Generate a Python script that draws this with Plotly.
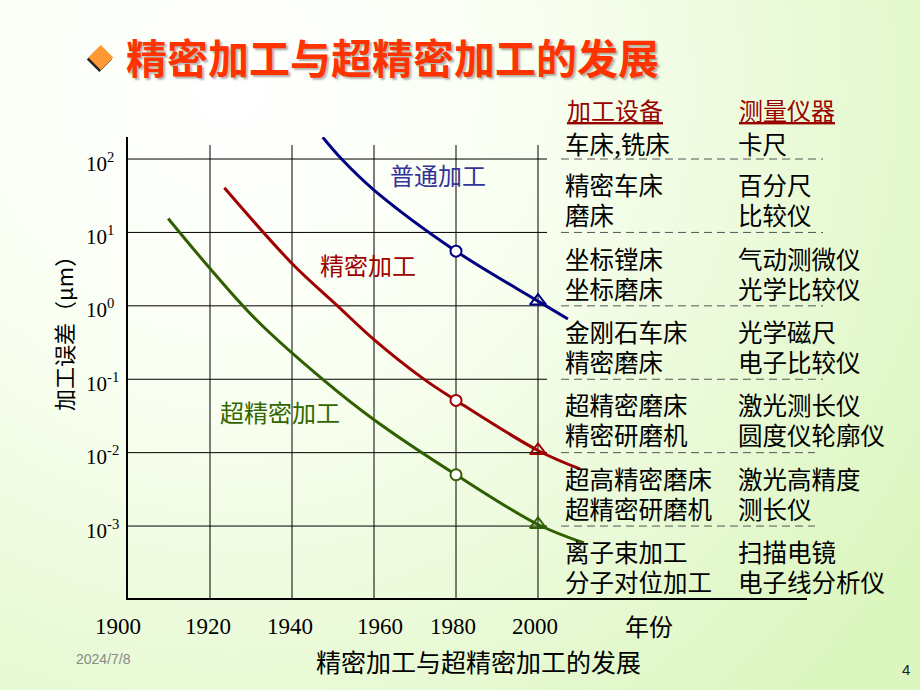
import base64
import plotly.graph_objects as go

# ---------------- data ----------------
years_normal = [1947.5, 1952.1, 1960, 1980, 2000, 2007.3]
err_normal = [198.0, 100.0, 37.8, 5.56, 1.16, 0.66]

years_precision = [1923.5, 1940, 1951.1, 1960, 1972, 1980, 2000, 2010.2]
err_precision = [40.6, 3.78, 1.0, 0.347, 0.102, 0.0515, 0.0107, 0.0060]

years_ultra = [1909.8, 1920, 1931.4, 1947.8, 1960, 1980, 2000, 2011.2]
err_ultra = [15.5, 3.23, 0.637, 0.0966, 0.0281, 0.0050, 0.00105, 0.00059]

marker_years = [1980, 2000]

series_names = ["普通加工", "精密加工", "超精密加工"]

x_ticks = [1900, 1920, 1940, 1960, 1980, 2000]
x_tick_labels = ["1900", "1920", "1940", "1960", "1980", "2000"]
y_ticks = [2, 1, 0, -1, -2, -3]          # decades (log10 of μm)
y_tick_labels = ["10<sup>2</sup>", "10<sup>1</sup>", "10<sup>0</sup>",
                 "10<sup>-1</sup>", "10<sup>-2</sup>", "10<sup>-3</sup>"]

table_headers = ["加工设备", "测量仪器"]
table_equipment = [["车床,铣床"], ["精密车床", "磨床"], ["坐标镗床", "坐标磨床"],
                   ["金刚石车床", "精密磨床"], ["超精密磨床", "精密研磨机"],
                   ["超高精密磨床", "超精密研磨机"], ["离子束加工", "分子对位加工"]]
table_instruments = [["卡尺"], ["百分尺", "比较仪"], ["气动测微仪", "光学比较仪"],
                     ["光学磁尺", "电子比较仪"], ["激光测长仪", "圆度仪轮廓仪"],
                     ["激光高精度", "测长仪"], ["扫描电镜", "电子线分析仪"]]

title_text = "精密加工与超精密加工的发展"
caption_text = "精密加工与超精密加工的发展"
y_title = "加工误差（μm）"
x_title = "年份"
date_text = "2024/7/8"
page_text = "4"

# ---------------- layout geometry ----------------
W, H = 920, 690
L, R, T, B = 128, 113, 137, 92
PW, PH = W - L - R, H - T - B
X_RANGE = [1900, 1900 + PW / 4.1]
Y_RANGE = [-3.98, 2.30]


def px(x):
    return (x - L) / PW


def py(y):
    return (H - B - y) / PH


def log_to_py(v):
    return T + (Y_RANGE[1] - v) / (Y_RANGE[1] - Y_RANGE[0]) * PH


CJK = "Noto Sans CJK SC"
SERIF = "Liberation Serif"
colors = ["#000080", "#A00000", "#2F5F00"]
label_colors = ["#333399", "#A00000", "#336600"]

fig = go.Figure()

all_years = [years_normal, years_precision, years_ultra]
all_err = [err_normal, err_precision, err_ultra]
for name, yrs, errs, c in zip(series_names, all_years, all_err, colors):
    fig.add_trace(go.Scatter(x=yrs, y=errs, mode="lines", name=name,
                             line=dict(color=c, width=3, shape="spline", smoothing=1.0),
                             hoverinfo="skip"))
    mx = [y for y in yrs if y in marker_years]
    my = [e for y, e in zip(yrs, errs) if y in marker_years]
    fig.add_trace(go.Scatter(x=mx[:1], y=my[:1], mode="markers",
                             marker=dict(symbol="circle", size=11, color="white",
                                         line=dict(color=c, width=2)),
                             hoverinfo="skip"))
    fig.add_trace(go.Scatter(x=mx[1:], y=my[1:], mode="markers",
                             marker=dict(symbol="triangle-up-open", size=14,
                                         color=c, line=dict(color=c, width=2)),
                             hoverinfo="skip"))

shapes = []
# vertical grid lines (shape coordinates on a log axis are data values)
for xv in x_ticks[1:]:
    shapes.append(dict(type="line", xref="x", yref="y", x0=xv, x1=xv,
                       y0=10 ** Y_RANGE[0], y1=10 ** 2.19, line=dict(color="black", width=1),
                       layer="below"))
# horizontal grid lines
for yv in y_ticks:
    shapes.append(dict(type="line", xref="x", yref="y", x0=1900, x1=2002.2,
                       y0=10 ** yv, y1=10 ** yv, line=dict(color="black", width=1),
                       layer="below"))
# dashed table separators (aligned with decades)
for i, yv in enumerate(y_ticks):
    yp = py(log_to_py(yv))
    x_end = 823 if i < 4 else 815
    shapes.append(dict(type="line", xref="paper", yref="paper",
                       x0=px(561), x1=px(x_end), y0=yp, y1=yp,
                       line=dict(color="#555555", width=1, dash="8px,5px")))


# diamond bullet (shadow + body)
def diamond(cx, cy, hw, hh):
    return (f"M {px(cx - hw)},{py(cy)} L {px(cx)},{py(cy - hh)} "
            f"L {px(cx + hw)},{py(cy)} L {px(cx)},{py(cy + hh)} Z")


shapes.append(dict(type="path", xref="paper", yref="paper",
                   path=diamond(99.3, 59.5, 12.5, 12.5), fillcolor="#222222",
                   line=dict(width=0)))
shapes.append(dict(type="path", xref="paper", yref="paper",
                   path=diamond(100.8, 57.5, 12.5, 12.5), fillcolor="#FF9933",
                   line=dict(width=0)))

ann = []


def note(text, x, y, font, xref="paper", yref="paper", xanchor="center",
         yanchor="middle", **kw):
    ann.append(dict(text=text, x=x, y=y, xref=xref, yref=yref, xanchor=xanchor,
                    yanchor=yanchor, showarrow=False, font=font, **kw))


# title
note(title_text, px(124), py(56), dict(family=CJK, size=41, color="#FF3300", weight="bold",
                                        shadow="2px 2px 2px rgba(0,0,0,0.30)"),
     xanchor="left")
# x tick labels
x_shift = [-10, -2, -2, 6, -3, -3]
for xv, lab, s in zip(x_ticks, x_tick_labels, x_shift):
    note(lab, xv, py(626), dict(family=SERIF, size=23, color="black"), xref="x", xshift=s)
note(x_title, px(649), py(625), dict(family=CJK, size=24, color="black"))
# y tick labels
for yv, lab in zip(y_ticks, y_tick_labels):
    note(lab, px(84), yv, dict(family=SERIF, size=21, color="black"), yref="y",
         xanchor="left", yshift=-3)
note(y_title, px(63), py(328), dict(family=CJK, size=22, color="black"), textangle=-90)
# curve labels
label_pos = [(438, 174), (368, 264), (280, 411)]
for name, (lx, ly), c in zip(series_names, label_pos, label_colors):
    note(name, px(lx), py(ly), dict(family=CJK, size=24, color=c))
# table headers
for hdr, hx in zip(table_headers, [565, 737]):
    note(hdr, px(hx), py(110), dict(family=CJK, size=24, color="#990000",
                                    lineposition="under"), xanchor="left")
# table rows
group_bounds = [112] + [log_to_py(v) for v in y_ticks] + [H - B]
for gi, (eq, ins) in enumerate(zip(table_equipment, table_instruments)):
    if gi == 0:
        centers = [144]
    else:
        mid = (group_bounds[gi] + group_bounds[gi + 1]) / 2 + 4
        centers = [mid - 15, mid + 15]
    for line_i, cy in enumerate(centers):
        note(eq[line_i], px(563), py(cy), dict(family=CJK, size=24.5, color="black"),
             xanchor="left")
        note(ins[line_i], px(736), py(cy), dict(family=CJK, size=24.5, color="black"),
             xanchor="left")
# caption, date, page
note(caption_text, px(478.5), py(661), dict(family=CJK, size=25, color="black"))
note(date_text, px(103), py(659), dict(family="Liberation Sans", size=14, color="#888888"))
note(page_text, px(906), py(669), dict(family="Liberation Sans", size=15, color="#222222"))

# background gradient
svg = ('<svg xmlns="http://www.w3.org/2000/svg" width="920" height="690">'
       '<defs><radialGradient id="g" gradientUnits="userSpaceOnUse" cx="230" cy="90" r="820">'
       '<stop offset="0" stop-color="#ffffff"/><stop offset="0.35" stop-color="#fafff3"/>'
       '<stop offset="1" stop-color="#dcf6c0"/></radialGradient></defs>'
       '<rect width="920" height="690" fill="url(#g)"/></svg>')
bg_src = "data:image/svg+xml;base64," + base64.b64encode(svg.encode()).decode()

fig.update_layout(
    width=W, height=H, autosize=False,
    margin=dict(l=L, r=R, t=T, b=B, pad=0),
    paper_bgcolor="white", plot_bgcolor="rgba(0,0,0,0)",
    showlegend=False,
    shapes=shapes, annotations=ann,
    images=[dict(source=bg_src, xref="paper", yref="paper", x=px(0), y=py(0),
                 sizex=W / PW, sizey=H / PH, xanchor="left", yanchor="top",
                 sizing="stretch", layer="below")],
    xaxis=dict(range=X_RANGE, showgrid=False, zeroline=False, showline=True,
               linecolor="black", linewidth=2, ticks="", showticklabels=False,
               fixedrange=True),
    yaxis=dict(type="log", range=Y_RANGE, showgrid=False, zeroline=False, showline=True,
               linecolor="black", linewidth=2, ticks="", showticklabels=False,
               fixedrange=True),
)

fig.write_html("out.html", config={"displayModeBar": False},
               post_script="document.body.style.margin='0';document.body.style.padding='0';")
